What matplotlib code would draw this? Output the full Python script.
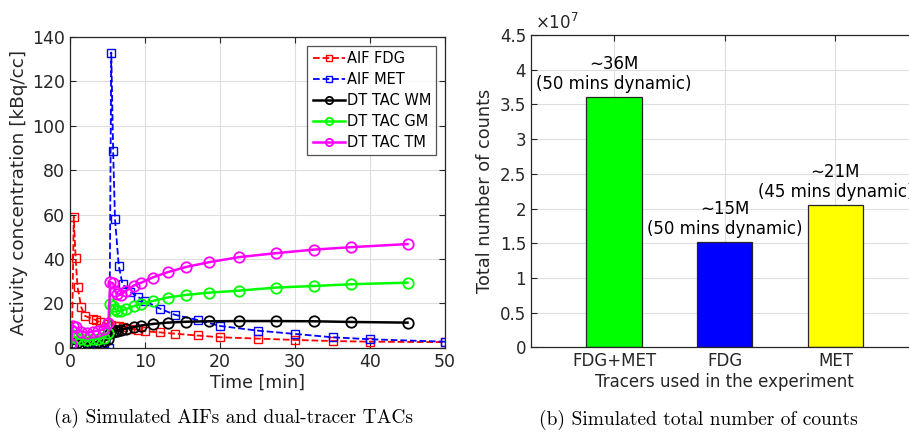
import numpy as np
import matplotlib
matplotlib.use('Agg')
from matplotlib import pyplot as plt
from matplotlib.ticker import FuncFormatter

# DATA
# arterial input functions (frame times in min, kBq/cc)
t_fdg = [0.25, 0.5, 0.75, 1.0, 1.5, 2.0, 3.0, 3.5, 4.0, 5.0, 5.5, 6.0, 6.5, 7.0, 8.0, 9.0,
         10.0, 12.0, 14.0, 17.0, 20.0, 25.0, 30.0, 35.0, 40.0, 50.0]
aif_fdg = [0.5, 59.0, 40.5, 27.4, 18.2, 14.3, 13.0, 12.4, 11.4, 10.7, 10.4, 10.0, 9.6, 9.2,
           8.6, 8.1, 7.4, 6.9, 6.3, 5.5, 4.7, 4.1, 3.5, 3.0, 2.7, 2.5]
t_met = [0.5, 1.5, 2.5, 3.5, 4.5, 5.25, 5.5, 5.75, 6.0, 6.5, 7.0, 8.0, 9.0, 10.0, 12.0, 14.0,
         17.0, 20.0, 25.0, 30.0, 35.0, 40.0, 50.0]
aif_met = [0, 0, 0, 0, 0, 0, 133.0, 88.8, 58.0, 37.0, 28.6, 25.3, 23.0, 21.0, 17.6, 14.8,
           12.5, 9.8, 7.7, 6.2, 4.7, 3.8, 2.7]

# dual-tracer time activity curves (frame mid times)
t_tac = [0.125, 0.375, 0.75, 1.5, 2.25, 3.0, 3.75, 4.5, 5.125, 5.375, 5.75, 6.0, 6.25, 6.75,
         7.5, 8.5, 9.5, 11.0, 13.0, 15.5, 18.5, 22.5, 27.5, 32.5, 37.5, 45.0]
tac_wm = [0.8, 2.0, 1.8, 1.8, 2.0, 2.3, 2.6, 3.0, 4.0, 6.5, 7.0, 7.3, 7.6, 8.0,
          8.6, 9.3, 10.0, 10.7, 11.3, 11.7, 11.9, 12.0, 12.0, 11.9, 11.6, 11.3]
tac_gm = [1.0, 5.5, 4.5, 3.8, 3.5, 3.7, 4.0, 4.5, 6.5, 19.5, 19.0, 17.5, 16.5, 16.5,
          17.5, 18.7, 19.8, 21.0, 22.6, 23.8, 24.8, 25.7, 27.1, 27.8, 28.6, 29.3]
tac_tm = [1.6, 10.0, 9.2, 7.2, 6.8, 7.2, 7.7, 8.3, 11.0, 29.5, 29.0, 25.7, 24.2, 23.8,
          25.7, 28.0, 29.3, 31.6, 34.0, 36.4, 38.5, 40.8, 42.6, 44.2, 45.3, 46.7]

# total counts
tracers = ['FDG+MET', 'FDG', 'MET']
counts = [3.6e7, 1.52e7, 2.05e7]
count_notes = ['\u223c36M\n(50 mins dynamic)', '\u223c15M\n(50 mins dynamic)',
               '\u223c21M\n(45 mins dynamic)']
bar_colors = ['#00ff00', '#0000ff', '#ffff00']

plt.rcParams['font.family'] = ['DejaVu Sans']
dark = '#262626'
grid_col = '#dedede'

fig = plt.figure(figsize=(9.09, 4.32), dpi=100)

def matlab_style(ax):
    ax.grid(True, color=grid_col, linewidth=0.8)
    ax.set_axisbelow(True)
    for s in ax.spines.values():
        s.set_color(dark)
        s.set_linewidth(0.9)
    ax.tick_params(direction='in', top=True, right=True, colors=dark,
                   labelsize=12, length=4, width=0.8)

# (a) AIFs and TACs
ax1 = fig.add_axes([70/909, 1-347.7/432, 375/909, 310.7/432])
matlab_style(ax1)
ax1.tick_params(labelsize=12.5)
ax1.plot(t_fdg, aif_fdg, 'r--s', mfc='none', ms=6, lw=1.3, mew=1.0, label='AIF FDG')
ax1.plot(t_met, aif_met, 'b--s', mfc='none', ms=6, lw=1.3, mew=1.0, label='AIF MET')
ax1.plot(t_tac, tac_wm, 'k-o', mfc='none', ms=7.5, lw=1.8, mew=1.3, label='DT TAC WM')
ax1.plot(t_tac, tac_gm, '-o', color='#00ff00', mfc='none', ms=7.5, lw=1.8, mew=1.3, label='DT TAC GM')
ax1.plot(t_tac, tac_tm, '-o', color='#ff00ff', mfc='none', ms=7.5, lw=1.8, mew=1.3, label='DT TAC TM')
ax1.set_xlim(0, 50)
ax1.set_ylim(0, 140)
ax1.set_xticks(np.arange(0, 51, 10))
ax1.set_yticks(np.arange(0, 141, 20))
ax1.set_xlabel('Time [min]', fontsize=12.5, color=dark, labelpad=2)
ax1.set_ylabel('Activity concentration [kBq/cc]', fontsize=13.3, color=dark, labelpad=3)
leg = ax1.legend(loc='upper right', fontsize=10.5, handlelength=2.2, handletextpad=0.15,
                 borderaxespad=0.6, labelspacing=0.42, fancybox=False, borderpad=0.35,
                 markerscale=0.7)
leg.get_frame().set_edgecolor(dark)
leg.get_frame().set_linewidth(0.9)

# (b) total counts
ax2 = fig.add_axes([531/909, 1-347.3/432, 387.5/909, 312.3/432])
matlab_style(ax2)
pos = np.arange(1, len(tracers) + 1)
ax2.bar(pos, counts, width=0.5, color=bar_colors, edgecolor=dark, linewidth=0.9)
for x, v, note in zip(pos, counts, count_notes):
    ax2.text(x, v + 0.06e7, note, ha='center', va='bottom', fontsize=12, linespacing=1.15)
ax2.set_xlim(0.25, 3.75)
ax2.set_ylim(0, 4.5e7)
ax2.set_xticks(pos)
ax2.set_xticklabels(tracers)
ax2.set_yticks(np.arange(0, 4.51e7, 0.5e7))
ax2.yaxis.set_major_formatter(FuncFormatter(lambda v, p: '%g' % (v / 1e7)))
ax2.text(0.01, 1.005, r'$\times10^{7}$', transform=ax2.transAxes, ha='left', va='bottom',
         fontsize=12, color=dark)
ax2.set_xlabel('Tracers used in the experiment', fontsize=12, color=dark, labelpad=2)
ax2.set_ylabel('Total number of counts', fontsize=12.8, color=dark, labelpad=4)

# captions
fig.text(234/909, 1-418/432, '(a) Simulated AIFs and dual-tracer TACs', ha='center',
         va='center', fontsize=14, family='cmr10')
fig.text(698/909, 1-420/432, '(b) Simulated total number of counts', ha='center',
         va='center', fontsize=14, family='cmr10')

fig.savefig('out.png', dpi=100)
